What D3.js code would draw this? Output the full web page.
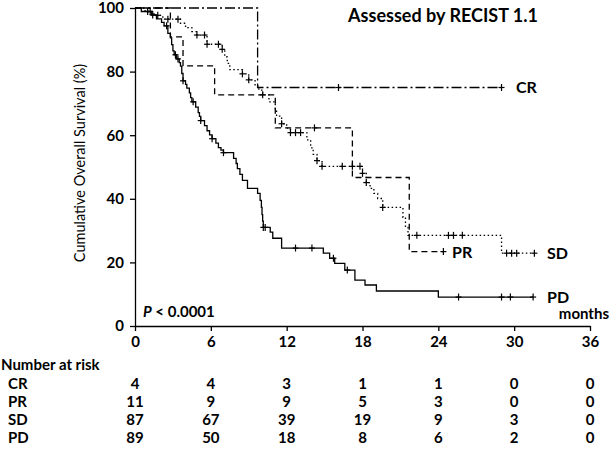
<!DOCTYPE html>
<html><head><meta charset="utf-8">
<script src="https://cdn.jsdelivr.net/npm/d3@7"></script>
<style>
body{margin:0;background:#fff}
svg text{font-family:Lato,"Liberation Sans",sans-serif;font-weight:bold;fill:#000}
</style>
</head><body><svg id="c" width="614" height="450"></svg>
<script>
// ---- data ----
const groups = ["CR", "PR", "SD", "PD"];
const xTicks = [0, 6, 12, 18, 24, 30, 36];
const yTicks = [0, 20, 40, 60, 80, 100];

const crEvents = [[9.7, 75]];
const crCensors = [16.1, 29.0];
const crEnd = 29.0;

const prEvents = [[2.8, 90.9], [3.8, 81.8], [6.3, 72.7], [11.1, 62.3], [17.2, 46.7], [21.7, 23.4]];
const prCensors = [10.1, 14.2, 24.4];
const prEnd = 24.4;

const sdEvents = [[0.8, 98.9], [1.5, 97.7], [2.2, 96.5], [3.6, 95.2], [4.0, 93.8], [4.5, 92.6], [4.9, 91.5],
  [5.7, 88.6], [6.9, 87.0], [7.1, 84.6], [7.3, 82.6], [7.5, 80.6], [8.5, 79.3], [9.0, 77.4], [9.5, 75.5],
  [9.8, 74.2], [10.1, 72.7], [10.6, 70.5], [11.1, 68.3], [11.2, 66.0], [11.6, 63.6], [12.0, 62.2], [12.3, 60.8],
  [13.6, 58.5], [13.9, 56.0], [14.1, 54.0], [14.4, 52.0], [14.8, 50.2], [18.0, 48.0], [18.3, 45.1], [18.6, 43.3],
  [18.9, 41.7], [19.2, 40.1], [19.6, 37.3], [21.2, 34.2], [21.4, 31.0], [21.6, 28.5], [29.0, 22.9]];
const sdCensors = [1.2, 1.8, 2.6, 3.4, 4.9, 5.5, 5.7, 6.6, 6.9, 8.5, 9.0, 11.6, 12.3, 12.7, 13.1, 14.4, 14.8,
  16.4, 17.2, 17.8, 18.0, 18.3, 19.6, 22.3, 24.8, 25.2, 25.9, 29.4, 29.8, 30.2, 31.6];
const sdEnd = 31.6;

const pdEvents = [[0.5, 98.9], [1.3, 97.8], [1.7, 96.6], [2.1, 95.5], [2.3, 94.4], [2.6, 92.0], [2.8, 90.6],
  [2.9, 88.5], [3.0, 86.5], [3.1, 85.3], [3.3, 84.0], [3.5, 82.8], [3.6, 81.7], [3.7, 79.4], [3.8, 77.1],
  [4.0, 76.0], [4.1, 74.8], [4.3, 73.3], [4.4, 71.8], [4.5, 70.5], [4.8, 68.8], [5.0, 67.1], [5.1, 65.9],
  [5.2, 64.6], [5.5, 63.0], [5.7, 61.4], [5.9, 60.1], [6.1, 58.9], [6.4, 57.5], [6.6, 56.1], [6.8, 55.3],
  [7.0, 54.5], [7.8, 52.7], [8.0, 51.1], [8.1, 49.5], [8.3, 47.7], [8.5, 45.8], [8.9, 43.3], [9.7, 41.7],
  [9.9, 39.5], [10.0, 37.3], [10.05, 35.0], [10.1, 33.0], [10.15, 31.0], [10.7, 29.5], [10.9, 27.6],
  [11.6, 24.5], [14.9, 22.9], [15.4, 21.3], [15.8, 19.7], [16.6, 17.6], [17.4, 14.4], [18.2, 12.9],
  [19.1, 11.0], [24.0, 9.1]];
const pdCensors = [1.0, 1.4, 2.5, 3.2, 3.4, 3.8, 4.6, 5.2, 6.1, 7.0, 10.15, 10.3, 12.7, 14.0, 15.7, 16.8,
  25.6, 29.0, 29.7, 31.5];
const pdEnd = 31.5;

const riskCR = [4, 4, 3, 1, 1, 0, 0];
const riskPR = [11, 9, 9, 5, 3, 0, 0];
const riskSD = [87, 67, 39, 19, 9, 3, 0];
const riskPD = [89, 50, 18, 8, 6, 2, 0];

// ---- drawing ----
const svg = d3.select("#c");
const x = d3.scaleLinear().domain([0, 36]).range([135, 590]);
const y = d3.scaleLinear().domain([0, 100]).range([326, 8]);

const curves = [
  {name: "CR", ev: crEvents, cen: crCensors, end: crEnd, dash: "10,3,2,3", lx: 516, ly: 87},
  {name: "PR", ev: prEvents, cen: prCensors, end: prEnd, dash: "6,4", lx: 452, ly: 252},
  {name: "SD", ev: sdEvents, cen: sdCensors, end: sdEnd, dash: "1.5,2.5", lx: 547, ly: 253},
  {name: "PD", ev: pdEvents, cen: pdCensors, end: pdEnd, dash: null, lx: 547, ly: 297}
];

function survAt(ev, t) {
  let s = 100;
  for (const [et, es] of ev) if (et <= t) s = es;
  return s;
}

const line = d3.line().x(d => x(d[0])).y(d => y(d[1])).curve(d3.curveStepAfter);

curves.forEach(c => {
  const pts = [[0, 100], ...c.ev, [c.end, c.ev[c.ev.length - 1][1]]];
  svg.append("path").attr("d", line(pts)).attr("fill", "none").attr("stroke", "#000")
    .attr("stroke-width", 1.3).attr("stroke-dasharray", c.dash);
  const g = svg.append("g");
  c.cen.forEach(t => {
    const cx = x(t), cy = y(survAt(c.ev, t));
    g.append("line").attr("x1", cx).attr("x2", cx).attr("y1", cy - 3.5).attr("y2", cy + 3.5)
      .attr("stroke", "#000").attr("stroke-width", 1.2);
    g.append("line").attr("x1", cx - 3).attr("x2", cx + 3).attr("y1", cy).attr("y2", cy)
      .attr("stroke", "#000").attr("stroke-width", 1.2);
  });
  svg.append("text").attr("x", c.lx).attr("y", c.ly).attr("dy", "0.35em").attr("fill", "#000")
    .style("font-size", "16px").text(c.name);
});

// axes
const yAxis = svg.append("g").attr("transform", "translate(135,0)")
  .call(d3.axisLeft(y).tickValues(yTicks).tickSize(5).tickSizeOuter(0).tickPadding(6));
const xAxis = svg.append("g").attr("transform", "translate(0,326)")
  .call(d3.axisBottom(x).tickValues(xTicks).tickSize(5).tickSizeOuter(0).tickPadding(5));
[yAxis, xAxis].forEach(a => {
  a.select(".domain").attr("stroke", "#000").attr("stroke-width", 1.3);
  a.selectAll(".tick line").attr("stroke", "#000").attr("stroke-width", 1.3);
  a.selectAll(".tick text").style("font-size", "15px").style("font-family", "Lato, sans-serif")
    .style("font-weight", "bold").attr("fill", "#000");
});

// titles
svg.append("text").attr("x", 443).attr("y", 16).attr("dy", "0.35em").attr("text-anchor", "middle")
  .attr("fill", "#000").style("font-size", "18px").text("Assessed by RECIST 1.1");
svg.append("text").attr("transform", "translate(80,163) rotate(-90)").attr("text-anchor", "middle")
  .attr("dy", "0.35em").attr("fill", "#000").style("fill", "#000")
  .style("font-size", "14.5px").style("font-weight", "normal")
  .text("Cumulative Overall Survival (%)");
const pt = svg.append("text").attr("x", 143).attr("y", 312).attr("dy", "0.35em").attr("fill", "#000")
  .style("font-size", "15px");
pt.append("tspan").style("font-style", "italic").text("P");
pt.append("tspan").text(" < 0.0001");
svg.append("text").attr("x", 609).attr("y", 314).attr("dy", "0.35em").attr("text-anchor", "end")
  .attr("fill", "#000").style("font-size", "15px").text("months");

// risk table
svg.append("text").attr("x", 1).attr("y", 365).attr("dy", "0.35em").attr("fill", "#000")
  .style("font-size", "15px").text("Number at risk");
const risk = [riskCR, riskPR, riskSD, riskPD];
const rowY = [384, 402, 420, 438];
groups.forEach((gname, i) => {
  svg.append("text").attr("x", 8).attr("y", rowY[i]).attr("dy", "0.35em").attr("fill", "#000")
    .style("font-size", "15px").text(gname);
  svg.selectAll(null).data(risk[i]).enter().append("text")
    .attr("x", (d, j) => x(xTicks[j])).attr("y", rowY[i]).attr("dy", "0.35em").attr("fill", "#000")
    .attr("text-anchor", "middle").style("font-size", "15px").text(d => d);
});
</script>
</body></html>
